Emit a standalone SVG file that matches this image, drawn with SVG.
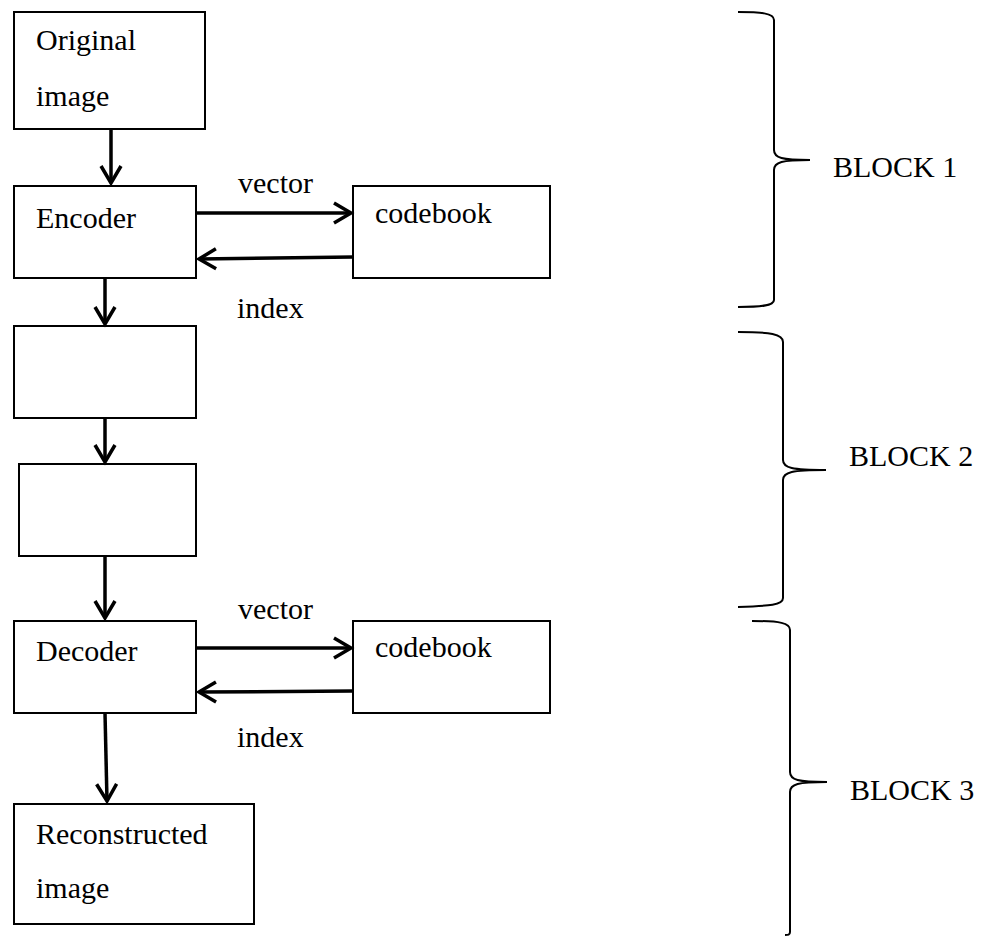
<svg xmlns="http://www.w3.org/2000/svg" width="996" height="937" viewBox="0 0 996 937">
<style>
  .box { fill: #fff; stroke: #000; stroke-width: 2; }
  text { font-family: "Liberation Serif", "DejaVu Serif", "Times New Roman", serif; font-size: 30px; fill: #000; }
  .conn { fill: none; stroke: #000; stroke-width: 3.5; }
  .brace { fill: none; stroke: #000; stroke-width: 2; }
</style>
<defs>
  <marker id="ah" markerUnits="userSpaceOnUse" viewBox="-20 -12 24 24" refX="0" refY="0" markerWidth="24" markerHeight="24" orient="auto">
    <path d="M-17,-10 L0,0 L-17,10" fill="none" stroke="#000" stroke-width="3.5" stroke-linejoin="miter"/>
  </marker>
</defs>
<rect width="996" height="937" fill="#fff"/>

<g id="original">
  <rect class="box" x="14" y="12" width="191" height="117"/>
  <text x="36" y="50" font-family="Liberation Serif, serif">Original</text>
  <text x="36" y="106" font-family="Liberation Serif, serif">image</text>
</g>
<g id="encoder">
  <rect class="box" x="14" y="186" width="182" height="92"/>
  <text x="36" y="228" font-family="Liberation Serif, serif">Encoder</text>
</g>
<g id="codebook1">
  <rect class="box" x="353" y="186" width="197" height="92"/>
  <text x="375" y="223" font-family="Liberation Serif, serif">codebook</text>
</g>
<g id="box3">
  <rect class="box" x="14" y="326" width="182" height="92"/>
</g>
<g id="box4">
  <rect class="box" x="19" y="464" width="177" height="92"/>
</g>
<g id="decoder">
  <rect class="box" x="14" y="621" width="182" height="92"/>
  <text x="36" y="661" font-family="Liberation Serif, serif">Decoder</text>
</g>
<g id="codebook2">
  <rect class="box" x="353" y="621" width="197" height="92"/>
  <text x="375" y="657" font-family="Liberation Serif, serif">codebook</text>
</g>
<g id="reconstructed">
  <rect class="box" x="14" y="804" width="240" height="120"/>
  <text x="36" y="844" font-family="Liberation Serif, serif">Reconstructed</text>
  <text x="36" y="898" font-family="Liberation Serif, serif">image</text>
</g>

<g id="connectors">
  <line class="conn" x1="111" y1="129" x2="111" y2="183" marker-end="url(#ah)"/>
  <line class="conn" x1="196" y1="213" x2="351" y2="213" marker-end="url(#ah)"/>
  <line class="conn" x1="353" y1="257" x2="199" y2="259" marker-end="url(#ah)"/>
  <line class="conn" x1="105" y1="278" x2="105" y2="324" marker-end="url(#ah)"/>
  <line class="conn" x1="105" y1="418" x2="105" y2="462" marker-end="url(#ah)"/>
  <line class="conn" x1="105" y1="556" x2="105" y2="618" marker-end="url(#ah)"/>
  <line class="conn" x1="196" y1="648" x2="351" y2="648" marker-end="url(#ah)"/>
  <line class="conn" x1="353" y1="691" x2="199" y2="692" marker-end="url(#ah)"/>
  <line class="conn" x1="105" y1="713" x2="107" y2="801" marker-end="url(#ah)"/>
  <text x="238" y="193" font-family="Liberation Serif, serif">vector</text>
  <text x="237" y="318" font-family="Liberation Serif, serif">index</text>
  <text x="238" y="619" font-family="Liberation Serif, serif">vector</text>
  <text x="237" y="747" font-family="Liberation Serif, serif">index</text>
</g>

<g id="block1">
  <path class="brace" d="M738,12 C760,12 774,13 774,20 L774,150 C774,158 782,160 810,160 C782,160 774,162 774,170 L774,300 C774,306 760,307 738,307"/>
  <text x="833" y="177" font-family="Liberation Serif, serif">BLOCK 1</text>
</g>
<g id="block2">
  <path class="brace" d="M738,332 C770,332 783,334 783,342 L783,460 C783,468 792,470 826,470 C792,470 783,472 783,480 L783,598 C783,605 770,606 738,607"/>
  <text x="849" y="466" font-family="Liberation Serif, serif">BLOCK 2</text>
</g>
<g id="block3">
  <path class="brace" d="M752,621 C780,621 790,623 790,630 L790,772 C790,780 798,782 827,782 C798,782 790,784 790,792 L790,932 C790,935 788,935 785,935"/>
  <text x="850" y="800" font-family="Liberation Serif, serif">BLOCK 3</text>
</g>
</svg>
